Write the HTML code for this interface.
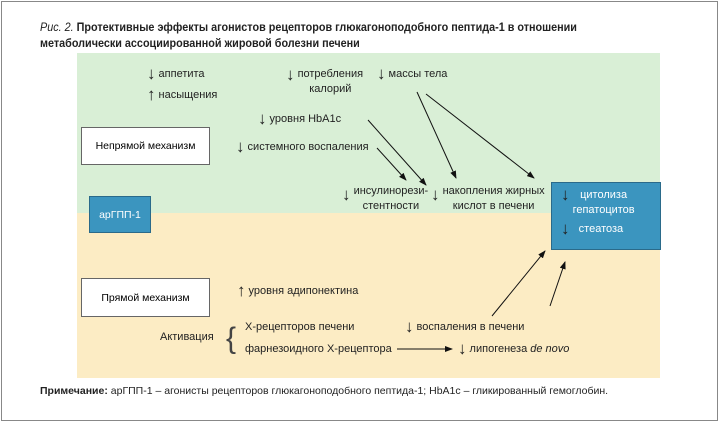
<!DOCTYPE html>
<html><head><meta charset="utf-8"><style>
body{margin:0;width:720px;height:423px;background:#fff;font-family:"Liberation Sans",sans-serif;position:relative;overflow:hidden}
.a{position:absolute;font-size:11px;color:#222;white-space:nowrap;line-height:15px}
.r{font-size:17px;line-height:10px;vertical-align:-2px;font-weight:bold}
</style></head><body>
<div style="position:absolute;left:1px;top:1px;width:715px;height:418px;border:1px solid #888"></div>
<div class="a" style="left:40px;top:20px;font-size:11.5px;font-weight:bold;line-height:16px;transform:scaleX(0.94);transform-origin:0 0"><i style="font-weight:normal">Рис. 2.</i> Протективные эффекты агонистов рецепторов глюкагоноподобного пептида-1 в отношении<br>метаболически ассоциированной жировой болезни печени</div>
<div style="position:absolute;left:77px;top:53px;width:583px;height:160px;background:#d9efd6"></div>
<div style="position:absolute;left:77px;top:213px;width:583px;height:165px;background:#fcecc4"></div>
<div style="position:absolute;left:81px;top:127px;width:127px;height:36px;background:#fff;border:1px solid #666;font-size:10.5px;display:flex;align-items:center;justify-content:center">Непрямой механизм</div>
<div style="position:absolute;left:81px;top:278px;width:127px;height:37px;background:#fff;border:1px solid #666;font-size:10.5px;display:flex;align-items:center;justify-content:center">Прямой механизм</div>
<div style="position:absolute;left:89px;top:196px;width:60px;height:35px;background:#3b95bf;border:1px solid #2a6a8a;color:#fff;font-size:10.5px;display:flex;align-items:center;justify-content:center">арГПП-1</div>
<div style="position:absolute;left:551px;top:182px;width:108px;height:66px;background:#3b95bf;border:1px solid #2a6a8a"></div>
<div class="a" style="left:561px;top:188px;color:#fff;font-size:11px"><span class="r" style="color:#222">↓</span> <span style="display:inline-block;text-align:center;vertical-align:top">цитолиза<br>гепатоцитов</span></div>
<div class="a" style="left:561px;top:222px;color:#fff"><span class="r" style="color:#222">↓</span> &nbsp;&nbsp;стеатоза</div>
<div class="a" style="left:147px;top:67px"><span class="r">↓</span> аппетита</div>
<div class="a" style="left:147px;top:88px"><span class="r">↑</span> насыщения</div>
<div class="a" style="left:286px;top:67px"><span class="r" style="vertical-align:top;line-height:15px">↓</span> <span style="display:inline-block;text-align:center;vertical-align:top">потребления<br>калорий</span></div>
<div class="a" style="left:377px;top:67px"><span class="r">↓</span> массы тела</div>
<div class="a" style="left:258px;top:112px"><span class="r">↓</span> уровня HbA1c</div>
<div class="a" style="left:236px;top:140px"><span class="r">↓</span> системного воспаления</div>
<div class="a" style="left:342px;top:184px"><span class="r" style="vertical-align:top;line-height:22px">↓</span> <span style="display:inline-block;text-align:center;vertical-align:top">инсулинорези-<br>стентности</span></div>
<div class="a" style="left:431px;top:184px"><span class="r" style="vertical-align:top;line-height:22px">↓</span> <span style="display:inline-block;text-align:center;vertical-align:top">накопления жирных<br>кислот в печени</span></div>
<div class="a" style="left:237px;top:284px"><span class="r">↑</span> уровня адипонектина</div>
<div class="a" style="left:160px;top:330px">Активация</div>
<div class="a" style="left:226px;top:317px;font-size:30px;line-height:44px;font-weight:100;color:#444">{</div>
<div class="a" style="left:245px;top:320px">Х-рецепторов печени</div>
<div class="a" style="left:245px;top:342px">фарнезоидного Х-рецептора</div>
<div class="a" style="left:405px;top:320px"><span class="r">↓</span> воспаления в печени</div>
<div class="a" style="left:458px;top:342px"><span class="r">↓</span> липогенеза <i>de novo</i></div>
<div class="a" style="left:40px;top:384px;font-size:10.5px"><b>Примечание:</b> арГПП-1 – агонисты рецепторов глюкагоноподобного пептида-1; HbA1c – гликированный гемоглобин.</div>
<svg style="position:absolute;left:0;top:0" width="720" height="423">
<defs><marker id="m" markerWidth="8" markerHeight="6" refX="7" refY="3" orient="auto" markerUnits="userSpaceOnUse"><path d="M0,0L8,3L0,6z" fill="#111"/></marker></defs>
<g stroke="#111" stroke-width="1" fill="none" marker-end="url(#m)">
<line x1="368" y1="120" x2="426" y2="185"/>
<line x1="377" y1="148" x2="406" y2="180"/>
<line x1="417" y1="92" x2="456" y2="178"/>
<line x1="426" y1="94" x2="534" y2="178"/>
<line x1="492" y1="316" x2="545" y2="251"/>
<line x1="550" y1="306" x2="565" y2="262"/>
<line x1="397" y1="349" x2="452" y2="349"/>
</g></svg>
</body></html>
